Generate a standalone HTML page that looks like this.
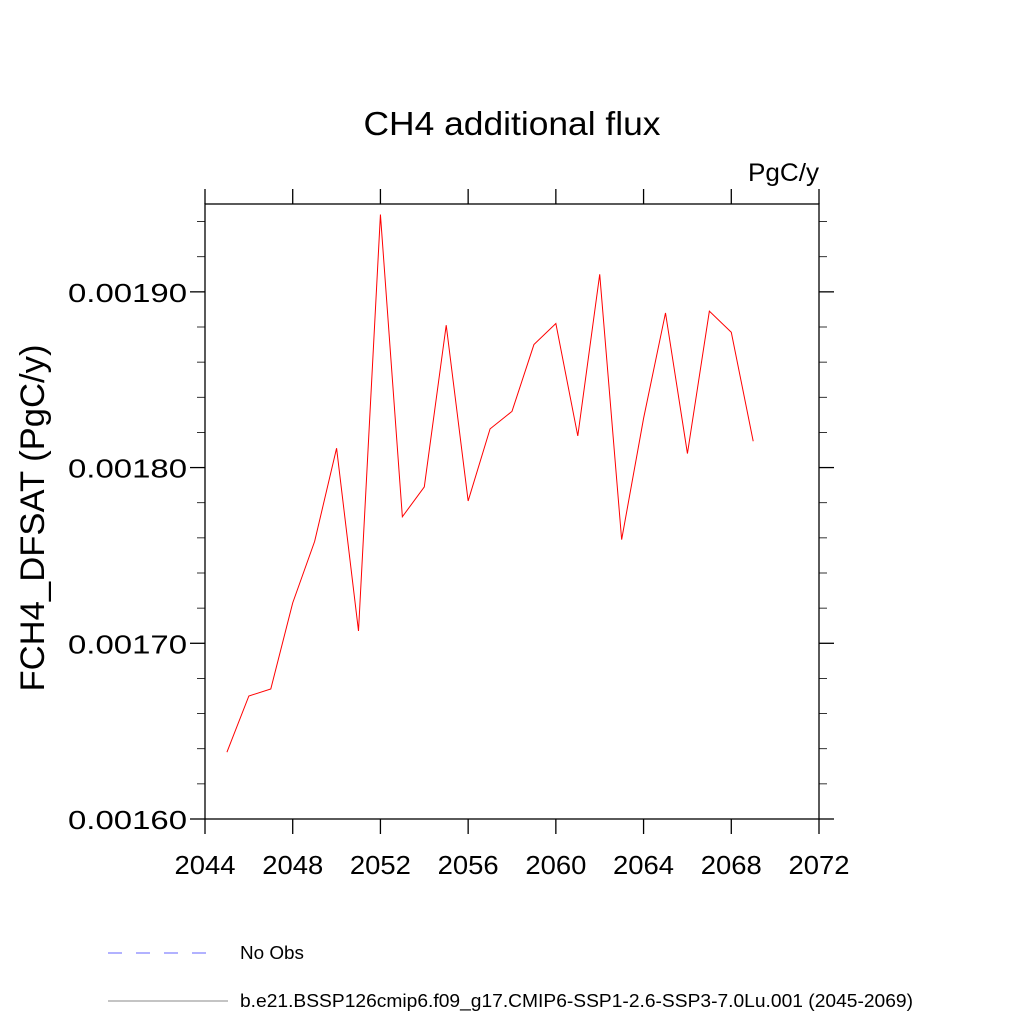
<!DOCTYPE html>
<html><head><meta charset="utf-8"><style>body{margin:0;background:#fff}svg{display:block;font-family:"Liberation Sans",sans-serif}</style></head>
<body>
<svg width="1024" height="1024" id="c">
<text x="512" y="135" font-size="33" text-anchor="middle" textLength="297" lengthAdjust="spacingAndGlyphs">CH4 additional flux</text>
<text x="819" y="181" font-size="25" text-anchor="end" textLength="71" lengthAdjust="spacingAndGlyphs">PgC/y</text>
<text transform="translate(44,518) rotate(-90)" font-size="34" text-anchor="middle" textLength="347" lengthAdjust="spacingAndGlyphs">FCH4_DFSAT  (PgC/y)</text>
<g id="axes"></g>
<polyline id="line" fill="none" stroke="#ff0000" stroke-width="1"/>
<line x1="108" y1="953" x2="215" y2="953" stroke="#6666ff" stroke-dasharray="14,14"/>
<text x="240" y="959" font-size="18" textLength="64" lengthAdjust="spacingAndGlyphs">No Obs</text>
<line x1="108" y1="1001" x2="228" y2="1001" stroke="#888"/>
<text x="240" y="1007" font-size="18" textLength="673" lengthAdjust="spacingAndGlyphs">b.e21.BSSP126cmip6.f09_g17.CMIP6-SSP1-2.6-SSP3-7.0Lu.001 (2045-2069)</text>
</svg>
<script>
const years=[2045,2046,2047,2048,2049,2050,2051,2052,2053,2054,2055,2056,2057,2058,2059,2060,2061,2062,2063,2064,2065,2066,2067,2068,2069];
const values=[0.001638,0.001670,0.001674,0.001723,0.001758,0.001811,0.001707,0.001944,0.001772,0.001789,0.001881,0.001781,0.001822,0.001832,0.001870,0.001882,0.001818,0.001910,0.001759,0.001828,0.001888,0.001808,0.001889,0.001877,0.001815];
const xTicks=[2044,2048,2052,2056,2060,2064,2068,2072];
const yTicks=[0.00160,0.00170,0.00180,0.00190];
const X0=205,X1=819,Y0=819,Y1=204;
const xs=v=>X0+(v-2044)/28*(X1-X0);
const ys=v=>Y0-(v-0.0016)/0.00035*(Y0-Y1);
const NS="http://www.w3.org/2000/svg";
const g=document.getElementById('axes');
function ln(x1,y1,x2,y2,n,w){const l=document.createElementNS(NS,'line');l.setAttribute('x1',x1);l.setAttribute('y1',y1);l.setAttribute('x2',x2);l.setAttribute('y2',y2);l.setAttribute('stroke','#000');l.setAttribute('stroke-width',w||1.3);


g.appendChild(l);}
function tx(x,y,s,a,n,len){const t=document.createElementNS(NS,'text');t.setAttribute('x',x);t.setAttribute('y',y);t.setAttribute('font-size','26');t.setAttribute('text-anchor',a);t.setAttribute('textLength',len);t.setAttribute('lengthAdjust','spacingAndGlyphs');t.textContent=s;


g.appendChild(t);}
const r=document.createElementNS(NS,'rect');r.setAttribute('x',X0);r.setAttribute('y',Y1);r.setAttribute('width',X1-X0);r.setAttribute('height',Y0-Y1);r.setAttribute('fill','none');r.setAttribute('stroke','#000');r.setAttribute('stroke-width','1.3');


g.appendChild(r);
xTicks.forEach(v=>{const x=xs(v);ln(x,Y0,x,Y0+15,'x-tick');ln(x,Y1,x,Y1-15,'x-tick-top');tx(x,Y0+55,String(v),'middle','x-tick-label',61);});
for(let i=0;i<=17;i++){const v=0.0016+i*0.00002;if(v>0.00195+1e-9)break;const y=ys(v);const maj=i%5===0;ln(X0,y,X0-(maj?15:8),y,'y-tick',maj?1.3:0.8);ln(X1,y,X1+(maj?15:8),y,'y-tick-right',maj?1.3:0.8);}
yTicks.forEach(v=>tx(X0-18,ys(v)+10,v.toFixed(5),'end','y-tick-label',119));
document.getElementById('line').setAttribute('points',years.map((y,i)=>xs(y)+','+ys(values[i])).join(' '));
</script>
</body></html>
